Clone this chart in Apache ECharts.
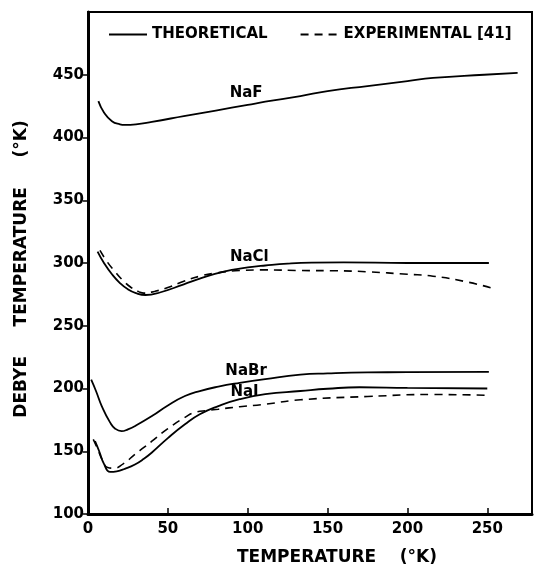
<!DOCTYPE html>
<html>
<head>
<meta charset="utf-8">
<script src="https://cdn.jsdelivr.net/npm/echarts@6/dist/echarts.min.js"></script>
<style>html,body{margin:0;padding:0;background:#fff}#c{width:535px;height:571px}</style>
</head>
<body>
<div id="c"></div>
<script>
// ---- data (temperature °K, Debye temperature °K) ----
const nafTheory = [[6.5,429],[10,420],[15,413],[20,410.5],[23,410],[30,410.5],[40,412.5],[60,417],[80,421.5],[100,426],[111,428.5],[133,433],[150,437],[175,441],[200,445],[216,447.5],[248,450],[269,451.5]];
const naclTheory = [[6,309],[10,300],[15,291],[20,284],[25,279],[30,276],[36,274.5],[45,276.5],[60,283],[70,287.5],[80,291.5],[90,294.5],[100,296.5],[111,298],[125,299.5],[140,300.3],[160,300.5],[200,300],[251,300]];
const naclExper = [[7.5,310],[12,301],[17,293],[22,286],[27,280.5],[32,277],[35,276],[42,277.5],[50,280.5],[60,285.5],[70,289.5],[80,292],[95,294],[110,294.5],[133,294],[155,293.8],[175,293],[200,291],[216,289.5],[237,285],[253,280]];
const nabrTheory = [[2,207],[5,198],[8.6,186],[13.8,173],[17,168],[21,166],[25,167.5],[30,170.5],[40,178],[50,186.5],[60.7,194],[70,198],[81.6,201.5],[95,204.5],[111,207.5],[133,211],[150,212],[175,212.8],[200,213],[251,213.3]];
const naiTheory = [[4.4,158],[7,150],[10,140],[13.8,133.5],[18,134],[23,136],[29.4,139.5],[35,144],[40,149],[50,160.5],[60.7,171.5],[70,179.5],[81.6,186],[95,191.5],[111,195.5],[133,198],[150,199.8],[170,201],[200,200.5],[250,200]];
const naiExper = [[3.3,159.5],[6,152],[9,143],[12.3,137],[16,136.5],[22,140],[29.4,147.5],[35,153],[40,158],[50,168],[60.7,177],[67,181],[75,182.5],[81.6,183.5],[95,185.5],[111,187.5],[133,191],[175,193.6],[216,195.2],[252,194.5]];

const xTicks = [0, 50, 100, 150, 200, 250];
const yTicks = [100, 150, 200, 250, 300, 350, 400, 450];

// curve name labels (data coordinates)
const curveNames = ['NaF', 'NaCl', 'NaBr', 'NaI'];
const curveLabelPos = [[99, 435], [101, 305], [99, 214], [98, 197]];

const legendNames = ['THEORETICAL', 'EXPERIMENTAL [41]'];
const xTitle = 'TEMPERATURE    (°K)';
const yTitle = 'DEBYE     TEMPERATURE     (°K)';

const FONT = 'DejaVu Sans';
const chart = echarts.init(document.getElementById('c'), null, {renderer: 'canvas'});

function mp(i) {
  return {
    symbol: 'circle', symbolSize: 0, silent: true,
    label: {show: true, position: 'inside', color: '#000', fontFamily: FONT, fontWeight: 'bold', fontSize: 15, formatter: curveNames[i]},
    data: [{coord: curveLabelPos[i]}]
  };
}
function solid(data, i) {
  return {name: legendNames[0], type: 'line', data: data, smooth: true, symbol: 'none',
    lineStyle: {color: '#000', width: 1.8, type: 'solid'}, itemStyle: {color: '#000'},
    markPoint: i === undefined ? undefined : mp(i), z: 3};
}
function dashed(data) {
  return {name: legendNames[1], type: 'line', data: data, smooth: true, symbol: 'none',
    lineStyle: {color: '#000', width: 1.6, type: [8, 6]}, itemStyle: {color: '#000'}, z: 2};
}

chart.setOption({
  animation: false,
  backgroundColor: '#fff',
  grid: {left: 88, right: 3, top: 12, bottom: 57, show: true, borderColor: '#000', borderWidth: 2},
  legend: {
    data: legendNames, left: 108, top: 27, width: 425, padding: 0, orient: 'horizontal',
    itemWidth: 38, itemHeight: 12, itemGap: 32,
    itemStyle: {opacity: 0},
    textStyle: {color: '#000', fontFamily: FONT, fontWeight: 'bold', fontSize: 15}
  },
  xAxis: {
    type: 'value', min: 0, max: 278, interval: 50,
    axisLine: {lineStyle: {color: '#000', width: 3}},
    axisTick: {inside: true, length: 6, lineStyle: {color: '#000', width: 1.5}, customValues: xTicks},
    axisLabel: {color: '#000', fontFamily: FONT, fontWeight: 'bold', fontSize: 15, margin: 8, customValues: xTicks},
    splitLine: {show: false}
  },
  yAxis: {
    type: 'value', min: 100, max: 500, interval: 50,
    axisLine: {lineStyle: {color: '#000', width: 3}},
    axisTick: {inside: false, length: 5, lineStyle: {color: '#000', width: 1.5}, customValues: yTicks},
    axisLabel: {color: '#000', fontFamily: FONT, fontWeight: 'bold', fontSize: 15, margin: 4, customValues: yTicks},
    splitLine: {show: false}
  },
  graphic: [
    {type: 'text', x: 337, y: 558, style: {text: xTitle, fill: '#000', font: 'bold 17px "DejaVu Sans"', align: 'center', verticalAlign: 'middle'}},
    {type: 'text', x: 22, y: 269, rotation: Math.PI / 2, style: {text: yTitle, fill: '#000', font: 'bold 17px "DejaVu Sans"', align: 'center', verticalAlign: 'middle'}}
  ],
  series: [
    solid(nafTheory, 0),
    solid(naclTheory, 1),
    dashed(naclExper),
    solid(nabrTheory, 2),
    solid(naiTheory, 3),
    dashed(naiExper)
  ]
});
</script>
</body>
</html>
